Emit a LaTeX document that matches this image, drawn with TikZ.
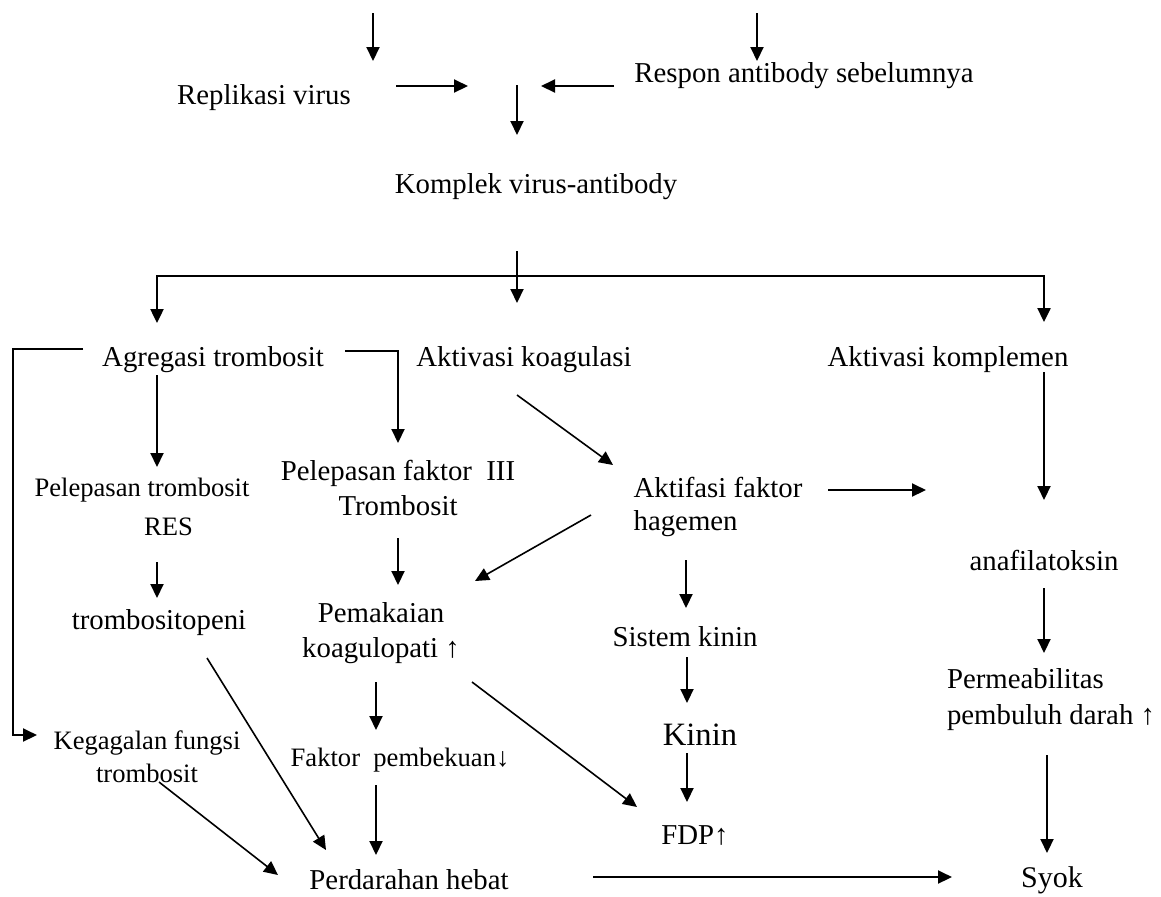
\documentclass[tikz,border=0pt]{standalone}
\usepackage{fontspec}
\setmainfont{Liberation Serif}
\usetikzlibrary{arrows.meta,calc}

\begin{document}
\begin{tikzpicture}[
  x=0.5pt, y=-0.5pt,
  lbl/.style={inner sep=0pt, align=center, font=\fontsize{14.4}{17.5}\selectfont},
  sml/.style={lbl, font=\fontsize{13.3}{16.5}\selectfont},
  arr/.style={-{Triangle[length=7pt,width=6.5pt]}, line width=1pt},
  slant/.style={arr, line width=0.8pt},
  fork/.style={{Triangle[length=7pt,width=6.5pt]}-{Triangle[length=7pt,width=6.5pt]}, line width=1.2pt}
]
\useasboundingbox (0,0) rectangle (1161,896);

% top rows
\node[lbl] (replik) at (264,98) {Replikasi virus};
\node[lbl] (respon) at (804,76) {Respon antibody sebelumnya};
\node[lbl] (komplek) at (536,187) {Komplek virus-antibody};

\node[lbl] (agr) at (213,360) {Agregasi trombosit};
\node[lbl] (koag) at (524,360) {Aktivasi koagulasi};
\node[lbl] (kompl) at (948,360) {Aktivasi komplemen};

% middle
\node[sml, font=\fontsize{13.3}{19.5}\selectfont] (peltr) at (142,507) {Pelepasan trombosit\\\hspace*{2em}RES};
\node[lbl] (pelfk) at (398,488) {Pelepasan faktor\ \ III\\Trombosit};
\node[lbl, align=left, font=\fontsize{14.4}{16.5}\selectfont] (aktf) at (718,507) {Aktifasi faktor\\hagemen};
\node[lbl] (anaf) at (1044,560) {anafilatoksin};

\node[lbl] (trbp) at (159,623) {trombositopeni};
\node[lbl] (pemk) at (381,633) {Pemakaian\\koagulopati ↑};
\node[lbl] (sist) at (685,637) {Sistem kinin};
\node[lbl, align=left, font=\fontsize{14.4}{18}\selectfont] (perm) at (1051,700) {Permeabilitas\\pembuluh darah ↑};

% bottom
\node[lbl, font=\fontsize{16.3}{19}\selectfont] (kinin) at (700,735) {Kinin};
\node[sml] (kegag) at (147,757) {Kegagalan fungsi\\trombosit};
\node[sml] (fakt) at (400,760) {Faktor\ \ pembekuan↓};
\node[lbl] (fdp) at (695,835) {FDP↑};
\node[lbl] (perd) at (409,880) {Perdarahan hebat};
\node[lbl, font=\fontsize{15}{18}\selectfont] (syok) at (1052,880) {Syok};

% free ends and corners
\coordinate (t1a) at (373,13);
\coordinate (t1b) at (373,61);
\coordinate (t2a) at (757,13);
\coordinate (t2b) at (757,61);
\coordinate (jl) at (468,86);
\coordinate (jr) at (541,86);
\coordinate (mrg) at (517,85);
\coordinate (brL) at (157,276);
\coordinate (brR) at (1044,276);
\coordinate (lp) at (13,735);
\coordinate (hg) at (926,490);

\draw[arr] (t1a) -- (t1b);
\draw[arr] (t2a) -- (t2b);
\draw[arr] ($(replik)+(132,-12)$) -- (jl);
\draw[arr] ($(respon)+(-190,10)$) -- (jr);
\draw[arr] (mrg) -- ($(komplek)+(-19,-52)$);
\draw[arr] ($(komplek)+(-19,64)$) -- ($(koag)+(-7,-57)$);

% three branches
\draw[fork] ($(agr)+(-56,-37)$) -- (brL) -- (brR) -- ($(kompl)+(96,-38)$);

% trombosit side
\draw[arr] ($(agr)+(-130,-11)$) -| (lp) -- ($(kegag)+(-110,-22)$);
\draw[arr] ($(agr)+(132,-9)$) -| ($(pelfk)+(0,-45)$);
\draw[arr] ($(agr)+(-56,15)$) -- ($(peltr)+(15,-40)$);
\draw[arr] ($(peltr)+(15,55)$) -- ($(trbp)+(-2,-25)$);
\draw[slant] ($(trbp)+(48,35)$) -- ($(perd)+(-83,-30)$);
\draw[slant] ($(kegag)+(12,25)$) -- ($(perd)+(-131,-5)$);

% koagulasi side
\draw[slant] ($(koag)+(-7,35)$) -- ($(aktf)+(-105,-42)$);
\draw[slant] ($(aktf)+(-127,8)$) -- ($(pemk)+(94,-52)$);
\draw[arr] ($(aktf)+(110,-17)$) -- (hg);
\draw[arr] ($(pelfk)+(0,50)$) -- ($(pemk)+(17,-48)$);
\draw[arr] ($(pemk)+(-5,49)$) -- ($(fakt)+(-24,-30)$);
\draw[arr] ($(fakt)+(-24,25)$) -- ($(perd)+(-33,-25)$);
\draw[slant] ($(pemk)+(91,49)$) -- ($(fdp)+(-58,-28)$);
\draw[arr] ($(aktf)+(-32,53)$) -- ($(sist)+(1,-29)$);
\draw[arr] ($(sist)+(2,20)$) -- ($(kinin)+(-13,-32)$);
\draw[arr] ($(kinin)+(-13,18)$) -- ($(fdp)+(-8,-33)$);

% komplemen side
\draw[arr] ($(kompl)+(96,12)$) -- ($(anaf)+(0,-60)$);
\draw[arr] ($(anaf)+(0,28)$) -- ($(perm)+(-7,-47)$);
\draw[arr] ($(perm)+(-4,55)$) -- ($(syok)+(-5,-27)$);
\draw[arr] ($(perd)+(184,-3)$) -- ($(syok)+(-100,-3)$);
\end{tikzpicture}
\end{document}
